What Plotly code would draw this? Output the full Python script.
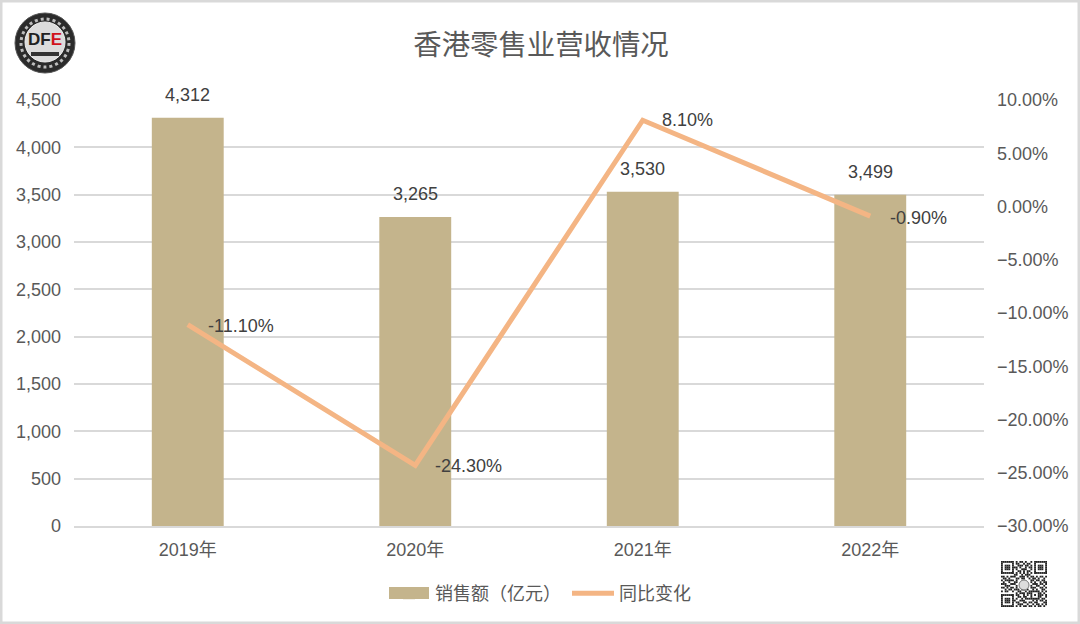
import plotly.graph_objects as go

categories = ["2019年", "2020年", "2021年", "2022年"]
sales = [4312, 3265, 3530, 3499]
yoy = [-0.111, -0.243, 0.081, -0.009]
sales_labels = ["4,312", "3,265", "3,530", "3,499"]
yoy_labels = ["-11.10%", "-24.30%", "8.10%", "-0.90%"]
series_names = ["销售额（亿元）", "同比变化"]
title_text = "香港零售业营收情况"

FONT = "'Liberation Sans', Arial, 'Noto Sans CJK SC', sans-serif"
TXT = "#595959"
BAR = "#C4B48C"
W, H = 1080, 624
L, R, T, B = 74, 96, 100, 98

QR = [
"1111111010110100101111111",
"1000001011001011001000001",
"1011101001110110101011101",
"1011101110100101101011101",
"1011101010011100101011101",
"1000001001101011001000001",
"1111111010101010101111111",
"0000000110010111000000000",
"1101011100111010110101101",
"0110100011011001011010010",
"1011111010000000110110110",
"0100100110000000101001011",
"1110011100000000011101101",
"0011100010000000100110010",
"1101011010000000111001101",
"0010110111011010010100110",
"1011001001100101111110101",
"0000000010111011100011010",
"1111111011001010101011101",
"1000001001101100100011001",
"1011101010010111111110110",
"1011101100111000010101101",
"1011101011001101101100011",
"1000001001110010010110101",
"1111111010101101101011010",
]

def px(x): return (x - L) / (W - L - R)
def py(y): return 1 - (y - T) / (H - T - B)

fig = go.Figure()
fig.add_bar(x=categories, y=sales, name=series_names[0], marker_color=BAR,
            marker_line_width=0, yaxis="y")
fig.add_scatter(x=categories, y=yoy, name=series_names[1], mode="lines", yaxis="y2",
                line=dict(color="#F4B584", width=5))

ann = []
for c, v, t in zip(categories, sales, sales_labels):
    ann.append(dict(x=c, y=v, yref="y", text=t, showarrow=False, yshift=23,
                    font=dict(size=18, color="#404040")))
for c, v, t, dx, dy in zip(categories, yoy, yoy_labels, [53, 53, 45, 48], [-1, -1, 0, -2]):
    ann.append(dict(x=c, y=v, yref="y2", text=t, showarrow=False, xshift=dx, yshift=dy,
                    font=dict(size=18, color="#404040")))

def rect(x0, x1, y0, y1, **kw):
    return dict(type="rect", xref="paper", yref="paper", x0=px(x0), x1=px(x1), y0=py(y1), y1=py(y0), **kw)
def circ(x0, x1, y0, y1, **kw):
    return dict(type="circle", xref="paper", yref="paper", x0=px(x0), x1=px(x1), y0=py(y1), y1=py(y0), **kw)

shapes = [
    rect(1, W - 1, 1, H - 1, line=dict(color="#d9d9d9", width=3), fillcolor="rgba(0,0,0,0)", layer="below"),
    circ(15, 75, 13, 73, fillcolor="#2b2b2b", line=dict(color="#555555", width=1)),
    circ(21, 69, 19, 67, fillcolor="rgba(0,0,0,0)", line=dict(color="#bdbdbd", width=3, dash="dot")),
    circ(25, 65, 22, 62, fillcolor="#dcdcdc", line=dict(color="#eeeeee", width=1)),
    rect(31, 59, 52, 56, fillcolor="#333333", line_width=0),
    rect(389, 429, 587, 599, fillcolor=BAR, line_width=0),
]
qx, qy, m = 1001.0, 561.0, 46 / len(QR)
for r, row in enumerate(QR):
    for c, bit in enumerate(row):
        if bit == "1":
            shapes.append(rect(qx + c * m, qx + (c + 1) * m, qy + r * m, qy + (r + 1) * m,
                               fillcolor="#222222", line_width=0))
shapes.append(circ(1019, 1029, 580, 590, fillcolor="#dddddd", line=dict(color="#777777", width=1)))

ann.append(dict(xref="paper", yref="paper", x=px(45), y=py(39), xanchor="center", yanchor="middle",
                text="<b>DF<span style='color:#d0121b'>E</span></b>", showarrow=False,
                font=dict(family="'Liberation Sans Narrow', 'Liberation Sans'", size=17, color="#222222")))

fig.update_layout(
    width=W, height=H, autosize=False,
    margin=dict(l=L, r=R, t=T, b=B, pad=0),
    paper_bgcolor="white", plot_bgcolor="white",
    font=dict(family=FONT, size=18, color=TXT),
    title=dict(text=title_text, x=541 / W, xanchor="center", y=1 - 45 / H, yanchor="middle",
               font=dict(size=28.4, color=TXT)),
    bargap=0.684,
    showlegend=True,
    legend=dict(orientation="h", x=px(383), xanchor="left", y=py(593.5), yanchor="middle",
                bgcolor="rgba(0,0,0,0)", font=dict(size=18, color=TXT), itemwidth=42,
                entrywidth=127, entrywidthmode="pixels"),
    xaxis=dict(type="category", showgrid=False, showline=True, linecolor="#d9d9d9", linewidth=1.5,
               ticks="", ticklabelstandoff=7, tickfont=dict(size=18, color=TXT)),
    yaxis=dict(range=[0, 4500], dtick=500, tickformat=",d", showgrid=True, gridcolor="#d9d9d9",
               gridwidth=1.5, zeroline=False, showline=False, ticks="", ticklabelstandoff=12,
               tickfont=dict(size=18, color=TXT)),
    yaxis2=dict(range=[-0.30, 0.10], dtick=0.05, tickformat=".2%", overlaying="y", side="right",
                showgrid=False, zeroline=False, showline=False, ticks="", ticklabelstandoff=12,
                tickfont=dict(size=18, color=TXT)),
    annotations=ann, shapes=shapes,
)
fig.write_html("out.html", config=dict(displayModeBar=False),
               post_script="document.body.style.margin='0';")
